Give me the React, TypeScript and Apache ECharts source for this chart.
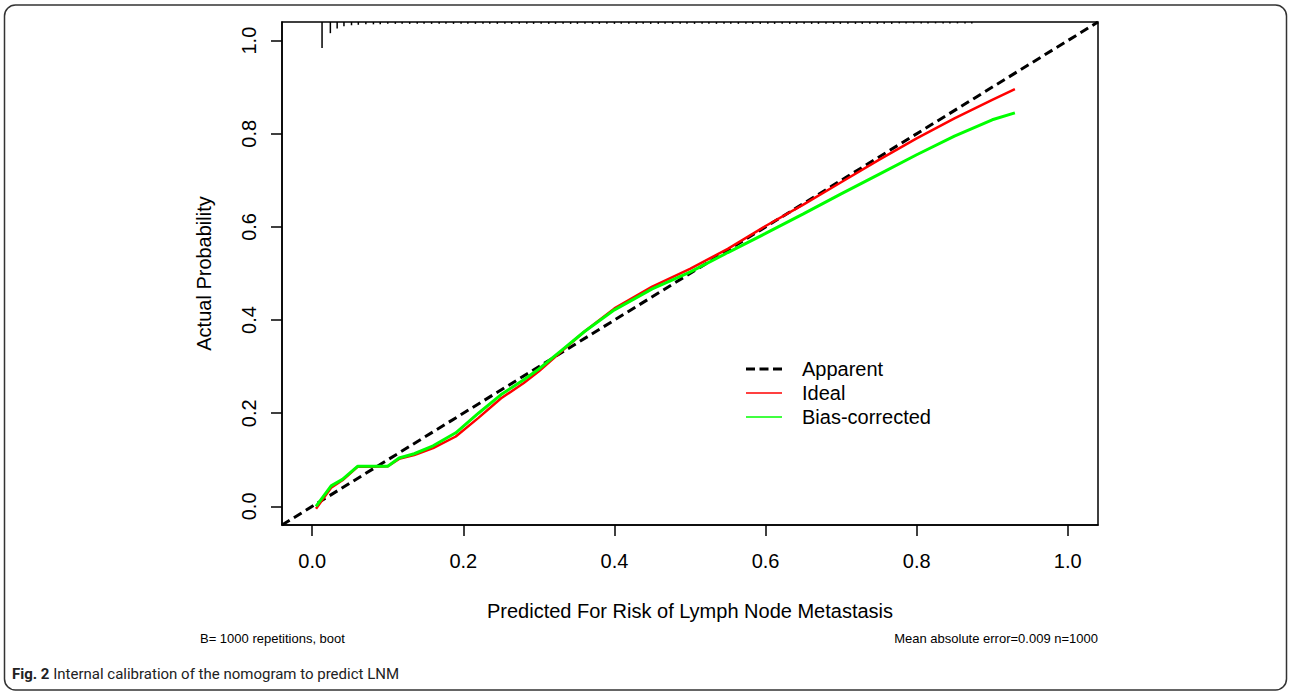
import React, { useEffect, useRef } from "react";
import * as echarts from "echarts";

// Predicted probability grid (x) shared by calibration curves
const predX = [0.005, 0.025, 0.04, 0.06, 0.08, 0.1, 0.115, 0.135, 0.16, 0.19, 0.22, 0.25, 0.28, 0.3, 0.33, 0.36, 0.4, 0.45, 0.5, 0.55, 0.6, 0.65, 0.7, 0.75, 0.8, 0.85, 0.9, 0.93];
// "Ideal" (red) curve
const idealY = [-0.005, 0.04, 0.056, 0.085, 0.085, 0.086, 0.102, 0.11, 0.125, 0.15, 0.19, 0.232, 0.265, 0.29, 0.333, 0.375, 0.425, 0.472, 0.51, 0.553, 0.602, 0.648, 0.696, 0.744, 0.79, 0.833, 0.873, 0.896];
// "Bias-corrected" (green) curve
const biasY = [0.0, 0.044, 0.058, 0.086, 0.086, 0.086, 0.104, 0.113, 0.13, 0.158, 0.2, 0.24, 0.272, 0.295, 0.335, 0.375, 0.422, 0.467, 0.503, 0.545, 0.586, 0.628, 0.671, 0.713, 0.755, 0.795, 0.83, 0.845];
// "Apparent" (dashed) diagonal end points
const apparentX = [-0.04, 1.04];
const apparentY = [-0.04, 1.04];
// Rug of predicted values along top (position, relative frequency height)
const rugX = [0.013, 0.024, 0.033, 0.042, 0.052, 0.061, 0.071, 0.081, 0.09, 0.1, 0.11, 0.119, 0.129, 0.139, 0.148, 0.158, 0.168, 0.177, 0.187, 0.197, 0.206, 0.216, 0.226, 0.235, 0.245, 0.255, 0.264, 0.274, 0.284, 0.293, 0.303, 0.313, 0.322, 0.332, 0.342, 0.351, 0.361, 0.371, 0.38, 0.39, 0.4, 0.409, 0.419, 0.429, 0.438, 0.448, 0.458, 0.467, 0.477, 0.487, 0.496, 0.506, 0.516, 0.525, 0.535, 0.545, 0.554, 0.564, 0.574, 0.583, 0.593, 0.603, 0.612, 0.622, 0.632, 0.641, 0.651, 0.661, 0.67, 0.68, 0.69, 0.699, 0.709, 0.719, 0.728, 0.738, 0.748, 0.757, 0.767, 0.777, 0.786, 0.796, 0.806, 0.815, 0.825, 0.835, 0.844, 0.854, 0.864, 0.873];
const rugH = [0.056, 0.024, 0.014, 0.009, 0.007, 0.006, 0.005, 0.005, 0.005, 0.004, 0.004, 0.004, 0.004, 0.004, 0.004, 0.004, 0.004, 0.004, 0.004, 0.004, 0.004, 0.004, 0.004, 0.004, 0.004, 0.004, 0.004, 0.004, 0.004, 0.004, 0.004, 0.004, 0.004, 0.004, 0.004, 0.004, 0.004, 0.004, 0.004, 0.004, 0.004, 0.004, 0.004, 0.004, 0.004, 0.004, 0.004, 0.004, 0.004, 0.004, 0.004, 0.004, 0.004, 0.004, 0.004, 0.004, 0.004, 0.004, 0.004, 0.004, 0.004, 0.004, 0.004, 0.004, 0.004, 0.004, 0.004, 0.004, 0.004, 0.004, 0.004, 0.004, 0.004, 0.004, 0.004, 0.004, 0.004, 0.004, 0.004, 0.003, 0.003, 0.003, 0.003, 0.003, 0.003, 0.003, 0.003, 0.003, 0.003, 0.003];
const tickValues = [0, 0.2, 0.4, 0.6, 0.8, 1.0];
const legendNames = ["Apparent", "Ideal", "Bias-corrected"];

const FONT = "'Liberation Sans', Arial, sans-serif";
const CAPTION_FONT = "Roboto, 'Noto Sans', sans-serif";

export default function App() {
  const ref = useRef<HTMLDivElement>(null);
  useEffect(() => {
    if (!ref.current) return;
    const chart = echarts.init(ref.current, undefined, { renderer: "svg" });
    const axisCommon = {
      type: "value",
      min: -0.04,
      max: 1.04,
      splitLine: { show: false },
      axisLine: { show: true, onZero: false, lineStyle: { color: "#000", width: 1.5 } },
      axisTick: { show: true, inside: false, length: 11, customValues: tickValues, lineStyle: { color: "#000", width: 1.5 } },
      nameTextStyle: { fontFamily: FONT, fontSize: 20, color: "#000" },
    };
    const lx = 746, lw = 36, ltx = 802, ly = [369, 393, 417];
    chart.setOption({
      animation: false,
      backgroundColor: "#fff",
      grid: { left: 282, top: 22, width: 816, height: 503, show: true, borderColor: "#000", borderWidth: 1.5, backgroundColor: "transparent" },
      xAxis: {
        ...axisCommon,
        name: "Predicted For Risk of Lymph Node Metastasis",
        nameLocation: "middle",
        nameGap: 76,
        axisLabel: { customValues: tickValues, margin: 26, fontFamily: FONT, fontSize: 20, color: "#000", formatter: (v: number) => v.toFixed(1) },
      },
      yAxis: {
        ...axisCommon,
        name: "Actual Probability",
        nameLocation: "middle",
        nameGap: 68,
        axisLabel: { customValues: tickValues, rotate: 90, margin: 23, fontFamily: FONT, fontSize: 20, color: "#000", formatter: (v: number) => v.toFixed(1) },
      },
      series: [
        {
          name: "Rug",
          type: "custom",
          silent: true,
          data: rugX.map((x, i) => [x, rugH[i]]),
          renderItem: (params: any, api: any) => {
            const x = api.value(0);
            const h = api.value(1);
            const p1 = api.coord([x, 1.04]);
            const p2 = api.coord([x, 1.04 - h]);
            return { type: "line", shape: { x1: p1[0], y1: p1[1], x2: p2[0], y2: p2[1] }, style: { stroke: "#000", lineWidth: 1.5 } };
          },
        },
        {
          name: legendNames[0],
          type: "line",
          data: apparentX.map((x, i) => [x, apparentY[i]]),
          showSymbol: false,
          symbol: "none",
          lineStyle: { color: "#000", width: 3, type: [9, 5] },
        },
        {
          name: legendNames[1],
          type: "line",
          data: predX.map((x, i) => [x, idealY[i]]),
          showSymbol: false,
          symbol: "none",
          lineStyle: { color: "#ff0000", width: 2.5 },
        },
        {
          name: legendNames[2],
          type: "line",
          data: predX.map((x, i) => [x, biasY[i]]),
          showSymbol: false,
          symbol: "none",
          lineStyle: { color: "#00ff00", width: 3 },
        },
      ],
      graphic: [
        { type: "rect", shape: { x: 4.5, y: 5, width: 1282, height: 685, r: 11 }, style: { fill: "none", stroke: "#333", lineWidth: 1.5 }, z: 0 },
        { type: "line", shape: { x1: lx, y1: ly[0], x2: lx + lw, y2: ly[0] }, style: { stroke: "#000", lineWidth: 3, lineDash: [9, 4.5] } },
        { type: "line", shape: { x1: lx, y1: ly[1], x2: lx + lw, y2: ly[1] }, style: { stroke: "#ff0000", lineWidth: 1.5 } },
        { type: "line", shape: { x1: lx, y1: ly[2], x2: lx + lw, y2: ly[2] }, style: { stroke: "#00ff00", lineWidth: 1.5 } },
        ...legendNames.map((n, i) => ({ type: "text", x: ltx, y: ly[i], style: { text: n, font: `20px ${FONT}`, fill: "#000", verticalAlign: "middle" } })),
        { type: "text", x: 200, y: 638, style: { text: "B= 1000 repetitions, boot", font: `13px ${FONT}`, fill: "#000", verticalAlign: "middle" } },
        { type: "text", x: 1098, y: 638, style: { text: "Mean absolute error=0.009 n=1000", font: `13px ${FONT}`, fill: "#000", align: "right", verticalAlign: "middle" } },
        {
          type: "text",
          x: 12,
          y: 674,
          style: {
            text: "{b|Fig. 2} Internal calibration of the nomogram to predict LNM",
            font: `15px ${CAPTION_FONT}`,
            fill: "#222",
            verticalAlign: "middle",
            rich: { b: { fontWeight: "bold", fontSize: 15, fontFamily: CAPTION_FONT, fill: "#222" } },
          },
        },
      ],
    });
    return () => chart.dispose();
  }, []);
  return <div ref={ref} style={{ position: "fixed", left: 0, top: 0, width: 1290, height: 692, background: "#fff" }} />;
}
